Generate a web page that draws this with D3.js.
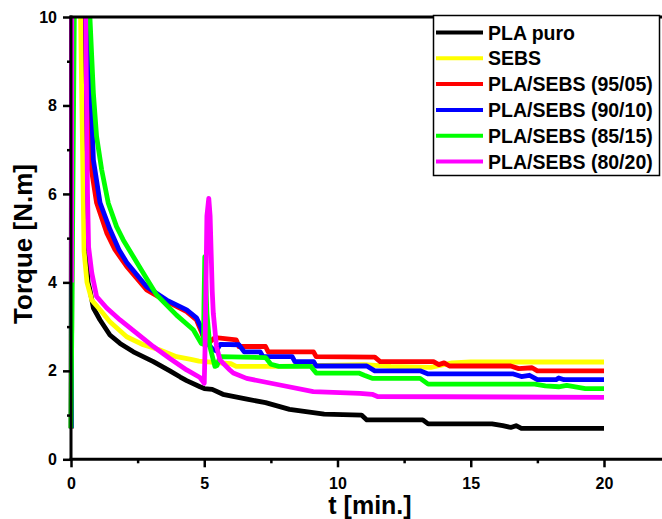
<!DOCTYPE html>
<html>
<head>
<meta charset="utf-8">
<script src="https://cdn.jsdelivr.net/npm/d3@7"></script>
<style>
  body { margin: 0; background: #fff; }
  svg { display: block; }
  text { font-family: Arial, "Liberation Sans", sans-serif; font-weight: bold; fill: #000; }
</style>
</head>
<body>
<svg id="chart" width="662" height="519"></svg>
<script>
// Torque vs. time, [t (min), torque (N.m)]
const plaPuro = [[0,0.7],[0.03,12],[0.45,12],[0.5,8],[0.58,5],[0.64,4.0],[0.71,3.83],[0.84,3.42],[1.09,3.15],[1.46,2.81],[1.84,2.62],[2.34,2.43],[3.09,2.21],[3.71,2.0],[4.1,1.86],[4.34,1.78],[4.84,1.64],[5.0,1.6],[5.3,1.58],[5.7,1.47],[6.6,1.36],[7.3,1.28],[8.2,1.13],[9.5,1.02],[10.9,1.0],[11.1,0.89],[13.2,0.89],[13.4,0.8],[15.8,0.8],[16.2,0.76],[16.5,0.72],[16.7,0.76],[16.9,0.7],[20,0.7]];
const sebs = [[0.02,0.7],[0.04,12],[0.3,12],[0.36,10],[0.49,4.7],[0.6,4.0],[0.78,3.6],[1.09,3.38],[1.46,3.11],[2.09,2.77],[2.71,2.59],[3.34,2.47],[3.96,2.32],[4.5,2.26],[4.8,2.22],[6,2.16],[6.2,2.1],[7.8,2.1],[9,2.12],[11,2.14],[12,2.1],[13.5,2.08],[13.8,2.12],[14.3,2.18],[15,2.2],[20,2.2]];
const blend9505 = [[0.02,0.7],[0.04,12],[0.55,12],[0.6,10],[0.71,6.77],[0.96,5.8],[1.34,5.12],[1.65,4.74],[2.09,4.36],[2.84,3.83],[3.59,3.57],[4.34,3.34],[4.71,3.15],[4.89,2.89],[5.0,2.7],[5.2,2.65],[5.4,2.75],[5.6,2.74],[6.2,2.7],[6.3,2.55],[7.3,2.55],[7.4,2.43],[9.1,2.43],[9.2,2.32],[11.4,2.31],[11.6,2.21],[13.6,2.21],[13.8,2.14],[14.0,2.18],[14.2,2.11],[16.5,2.11],[16.8,2.05],[17.3,2.07],[17.5,2.0],[20,2.0]];
const blend9010 = [[0.02,0.7],[0.04,12],[0.6,12],[0.65,10],[0.84,6.77],[1.09,5.8],[1.46,5.2],[1.8,4.74],[2.09,4.45],[2.84,3.9],[3.59,3.6],[4.34,3.38],[4.71,3.2],[4.9,2.95],[5.0,2.7],[5.3,2.5],[5.45,2.45],[5.6,2.6],[6.3,2.59],[6.5,2.43],[7.1,2.43],[7.2,2.32],[8.3,2.32],[8.4,2.21],[9.1,2.21],[9.2,2.11],[11.1,2.11],[11.4,2.0],[13.1,2.0],[13.4,1.93],[16.6,1.93],[16.9,1.87],[17.2,1.9],[17.5,1.8],[18.2,1.8],[18.3,1.84],[18.5,1.8],[20,1.8]];
const blend8515 = [[0,0.7],[0.15,12],[0.65,12],[0.71,10],[0.84,8.28],[0.96,7.3],[1.15,6.55],[1.4,5.79],[1.71,5.26],[1.96,4.96],[2.71,4.21],[3.21,3.72],[3.96,3.26],[4.59,2.93],[4.89,2.62],[4.97,2.6],[4.99,3.5],[5.02,4.58],[5.1,3.3],[5.21,2.55],[5.4,2.1],[5.48,2.12],[5.59,2.32],[7.3,2.3],[7.5,2.15],[7.8,2.1],[9.0,2.1],[9.2,1.95],[10.8,1.95],[11.0,1.9],[11.3,1.83],[13.1,1.83],[13.4,1.7],[17.4,1.7],[17.8,1.66],[18.3,1.64],[18.6,1.67],[19.3,1.6],[20,1.6]];
const blend8020 = [[0.02,4.0],[0.03,12],[0.5,12],[0.55,10],[0.62,6],[0.66,4.8],[0.78,4.21],[0.96,3.68],[1.34,3.42],[1.84,3.15],[2.46,2.85],[3.09,2.55],[3.71,2.28],[4.34,2.02],[4.84,1.85],[5.0,1.72],[5.03,2.5],[5.1,5.5],[5.17,5.9],[5.22,5.5],[5.3,3.8],[5.34,3.3],[5.46,2.55],[5.59,2.25],[5.71,2.17],[5.96,2.02],[6.09,1.95],[6.59,1.83],[7.84,1.68],[9.09,1.53],[10.84,1.49],[11.3,1.47],[11.5,1.42],[20,1.4]];

const seriesData = [plaPuro, sebs, blend9505, blend9010, blend8515, blend8020];
const seriesNames = ["PLA puro", "SEBS", "PLA/SEBS (95/05)", "PLA/SEBS (90/10)", "PLA/SEBS (85/15)", "PLA/SEBS (80/20)"];
const seriesColors = ["#000000", "#ffff00", "#ff0000", "#0000ff", "#00ff00", "#ff00ff"];

const xTicks = [0, 5, 10, 15, 20];
const xMinorTicks = [2.5, 7.5, 12.5, 17.5];
const yTicks = [0, 2, 4, 6, 8, 10];
const yMinorTicks = [1, 3, 5, 7, 9];

const svg = d3.select("#chart");
const W = 662;
const plotLeft = 71, plotTop = 17, plotBottom = 459.3;
const pxPerMin = 26.65;

const x = d3.scaleLinear().domain([0, 23]).range([plotLeft, plotLeft + 23 * pxPerMin]);
const y = d3.scaleLinear().domain([0, 10]).range([plotBottom, plotTop]);

// clip region for the plotting area
svg.append("defs").append("clipPath").attr("id", "plotClip")
  .append("rect").attr("x", plotLeft - 4).attr("y", plotTop).attr("width", W - plotLeft + 4).attr("height", plotBottom - plotTop);

// curves
const line = d3.line().x(d => x(d[0])).y(d => y(d[1])).curve(d3.curveLinear);
const curves = svg.append("g").attr("clip-path", "url(#plotClip)");
seriesData.forEach((data, i) => {
  curves.append("path")
    .attr("d", line(data))
    .attr("fill", "none")
    .attr("stroke", seriesColors[i])
    .attr("stroke-width", 4.8)
    .attr("stroke-linejoin", "round")
    .attr("stroke-linecap", "butt");
});

// axes
const axisW = 3;
function styleAxis(g) {
  g.select(".domain").remove();
  g.selectAll(".tick line").attr("stroke", "#000").attr("stroke-width", 2.5);
  g.selectAll(".tick text").style("font-size", "16px").style("font-weight", "bold")
    .style("font-family", "Arial, 'Liberation Sans', sans-serif");
}

const yAxis = svg.append("g").attr("transform", `translate(${plotLeft},0)`)
  .call(d3.axisLeft(y).tickValues(yTicks).tickSize(8).tickPadding(6).tickFormat(d3.format("d")));
styleAxis(yAxis);
const yMinor = svg.append("g").attr("transform", `translate(${plotLeft},0)`)
  .call(d3.axisLeft(y).tickValues(yMinorTicks).tickSize(4).tickFormat(""));
styleAxis(yMinor);

const xAxis = svg.append("g").attr("transform", `translate(0,${plotBottom})`)
  .call(d3.axisBottom(x).tickValues(xTicks).tickSize(8).tickPadding(10).tickFormat(d3.format("d")));
styleAxis(xAxis);
const xMinor = svg.append("g").attr("transform", `translate(0,${plotBottom})`)
  .call(d3.axisBottom(x).tickValues(xMinorTicks).tickSize(4).tickFormat(""));
styleAxis(xMinor);

// frame lines: left, bottom, top
svg.append("line").attr("x1", plotLeft).attr("x2", plotLeft).attr("y1", plotTop - 1.5).attr("y2", plotBottom + 1.5)
  .attr("stroke", "#000").attr("stroke-width", axisW);
svg.append("line").attr("x1", plotLeft - 1.5).attr("x2", W).attr("y1", plotBottom).attr("y2", plotBottom)
  .attr("stroke", "#000").attr("stroke-width", axisW);
svg.append("line").attr("x1", plotLeft - 1.5).attr("x2", W).attr("y1", plotTop).attr("y2", plotTop)
  .attr("stroke", "#000").attr("stroke-width", axisW);

// axis titles
svg.append("text").attr("x", 370).attr("y", 514).attr("text-anchor", "middle")
  .style("font-size", "25px").text("t [min.]");
svg.append("text").attr("transform", "translate(32,244) rotate(-90)").attr("text-anchor", "middle")
  .style("font-size", "26px").text("Torque [N.m]");

// legend
const lg = svg.append("g");
lg.append("rect").attr("x", 433.5).attr("y", 15.5).attr("width", 226).attr("height", 160)
  .attr("fill", "#fff").attr("stroke", "#000").attr("stroke-width", 1.5);
seriesNames.forEach((name, i) => {
  const cy = 32.5 + i * 25.8;
  lg.append("line").attr("x1", 436).attr("x2", 483).attr("y1", cy).attr("y2", cy)
    .attr("stroke", seriesColors[i]).attr("stroke-width", 4);
  lg.append("text").attr("x", 488).attr("y", cy).attr("dy", "0.36em")
    .style("font-size", "19.5px").text(name);
});
</script>
</body>
</html>
